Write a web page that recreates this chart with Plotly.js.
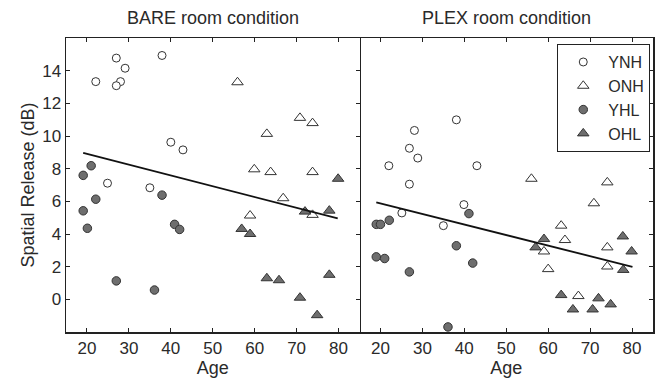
<!DOCTYPE html>
<html><head><meta charset="utf-8">
<script src="https://cdn.plot.ly/plotly-3.0.1.min.js"></script>
<style>html,body{margin:0;padding:0;background:#fff}#chart{width:659px;height:381px}</style>
</head><body><div id="chart"></div>
<script>
// BARE room condition
const bareYNHAge = [22.1, 27.0, 29.1, 28.0, 27.0, 37.9, 40.0, 42.9, 24.9, 35.0];
const bareYNHVal = [13.33, 14.77, 14.15, 13.33, 13.08, 14.93, 9.62, 9.15, 7.11, 6.83];
const bareONHAge = [55.9, 70.8, 73.8, 62.9, 59.9, 63.8, 73.8, 66.8, 58.9, 73.8];
const bareONHVal = [13.29, 11.11, 10.79, 10.13, 7.96, 7.79, 7.79, 6.19, 5.13, 5.17];
const bareYHLAge = [21.0, 19.1, 22.1, 19.1, 20.1, 27.0, 37.9, 40.9, 42.1, 36.1];
const bareYHLVal = [8.18, 7.59, 6.13, 5.42, 4.35, 1.13, 6.38, 4.59, 4.28, 0.57];
const bareOHLAge = [79.9, 77.8, 72.0, 56.9, 58.9, 62.9, 65.8, 77.8, 70.8, 74.9];
const bareOHLVal = [7.38, 5.43, 5.37, 4.31, 4.0, 1.29, 1.17, 1.50, 0.10, -0.97];
const bareFitAge = [19.1, 79.8];
const bareFitVal = [8.96, 4.96];

// PLEX room condition
const plexYNHAge = [38.1, 28.1, 26.9, 28.9, 22.0, 43.0, 26.9, 39.9, 25.1, 35.0];
const plexYNHVal = [10.99, 10.34, 9.25, 8.65, 8.18, 8.18, 7.05, 5.80, 5.29, 4.51];
const plexONHAge = [56.0, 74.1, 70.9, 63.1, 64.0, 59.0, 74.1, 60.0, 74.1, 67.2];
const plexONHVal = [7.38, 7.16, 5.88, 4.51, 3.63, 2.93, 3.18, 1.85, 2.01, 0.20];
const plexYHLAge = [19.0, 20.0, 22.1, 19.0, 21.0, 26.9, 41.1, 38.1, 42.0, 36.1];
const plexYHLVal = [4.59, 4.59, 4.84, 2.60, 2.50, 1.68, 5.25, 3.28, 2.22, -1.69];
const plexOHLAge = [59.0, 57.0, 77.8, 79.9, 77.9, 63.1, 72.0, 74.9, 65.9, 70.6];
const plexOHLVal = [3.69, 3.18, 3.85, 2.93, 1.80, 0.26, 0.06, -0.31, -0.62, -0.62];
const plexFitAge = [19.0, 80.1];
const plexFitVal = [5.94, 1.99];

const groupNames = ['YNH', 'ONH', 'YHL', 'OHL'];
const xTicks = [20, 30, 40, 50, 60, 70, 80];
const yTicks = [0, 2, 4, 6, 8, 10, 12, 14];

const edge = '#333333';
const fillGray = '#6e6e6e';
const styles = [
  {symbol: 'circle', size: 8, color: '#ffffff'},
  {symbol: 'triangle-up', size: 10, color: '#ffffff'},
  {symbol: 'circle', size: 8.5, color: fillGray},
  {symbol: 'triangle-up', size: 10, color: fillGray}
];

function pts(x, y, gi, xa, ya, showLeg) {
  const s = styles[gi];
  return {
    x: x, y: y, type: 'scatter', mode: 'markers', name: groupNames[gi],
    xaxis: xa, yaxis: ya, showlegend: showLeg, legendgroup: groupNames[gi],
    marker: {symbol: s.symbol, size: s.size, color: s.color, line: {color: edge, width: 1}}
  };
}
function fit(x, y, xa, ya) {
  return {x: x, y: y, type: 'scatter', mode: 'lines', xaxis: xa, yaxis: ya,
    showlegend: false, line: {color: '#111', width: 1.8}, hoverinfo: 'skip'};
}

const data = [
  pts(bareYNHAge, bareYNHVal, 0, 'x', 'y', true),
  pts(bareONHAge, bareONHVal, 1, 'x', 'y', true),
  pts(bareYHLAge, bareYHLVal, 2, 'x', 'y', true),
  pts(bareOHLAge, bareOHLVal, 3, 'x', 'y', true),
  fit(bareFitAge, bareFitVal, 'x', 'y'),
  pts(plexYNHAge, plexYNHVal, 0, 'x2', 'y2', false),
  pts(plexONHAge, plexONHVal, 1, 'x2', 'y2', false),
  pts(plexYHLAge, plexYHLVal, 2, 'x2', 'y2', false),
  pts(plexOHLAge, plexOHLVal, 3, 'x2', 'y2', false),
  fit(plexFitAge, plexFitVal, 'x2', 'y2')
];

const fontFam = 'Liberation Sans, Arial, sans-serif';
const txt = '#2a2a2a';
const xCommon = {
  range: [15, 85], tickvals: xTicks, ticktext: xTicks.map(String),
  ticks: 'inside', ticklen: 4, tickwidth: 1, tickcolor: '#222',
  showline: true, linecolor: '#222', linewidth: 1.5, mirror: 'ticks',
  showgrid: false, zeroline: false,
  tickfont: {size: 17, color: txt, family: fontFam},
  title: {text: 'Age', font: {size: 18, color: txt, family: fontFam}, standoff: 1}
};

const layout = {
  width: 659, height: 381,
  margin: {l: 66, r: 6, t: 38, b: 49},
  paper_bgcolor: '#fff', plot_bgcolor: '#fff',
  font: {family: fontFam, color: txt},
  xaxis: Object.assign({}, xCommon, {domain: [0, 0.5], anchor: 'y'}),
  xaxis2: Object.assign({}, xCommon, {domain: [0.5, 1], anchor: 'y2'}),
  yaxis: {
    range: [-2, 16], tickvals: yTicks, ticktext: yTicks.map(String), anchor: 'x',
    ticks: 'inside', ticklen: 4, tickwidth: 1, tickcolor: '#222',
    showline: true, linecolor: '#222', linewidth: 1.5, mirror: 'ticks',
    showgrid: false, zeroline: false,
    tickfont: {size: 17, color: txt, family: fontFam},
    title: {text: 'Spatial Release (dB)', font: {size: 18, color: txt, family: fontFam}, standoff: 3}
  },
  yaxis2: {
    range: [-2, 16], tickvals: yTicks, anchor: 'x2', side: 'right',
    ticks: 'inside', ticklen: 4, tickwidth: 1, tickcolor: '#222',
    showline: true, linecolor: '#222', linewidth: 1.5, mirror: false,
    showgrid: false, zeroline: false, showticklabels: false
  },
  legend: {
    x: 0.995, xanchor: 'right', y: 0.98, yanchor: 'top',
    bgcolor: '#fff', bordercolor: '#222', borderwidth: 1.2,
    font: {size: 16, color: txt, family: fontFam},
    tracegroupgap: 0, itemwidth: 40
  },
  annotations: [
    {text: 'BARE room condition', xref: 'paper', yref: 'paper', x: 0.25, xanchor: 'center', y: 1, yanchor: 'middle', yshift: 20,
     showarrow: false, font: {size: 18, color: txt, family: fontFam}},
    {text: 'PLEX room condition', xref: 'paper', yref: 'paper', x: 0.75, xanchor: 'center', y: 1, yanchor: 'middle', yshift: 20,
     showarrow: false, font: {size: 18, color: txt, family: fontFam}}
  ],
  showlegend: true
};

Plotly.newPlot('chart', data, layout, {displayModeBar: false, staticPlot: true});
</script>
</body></html>
